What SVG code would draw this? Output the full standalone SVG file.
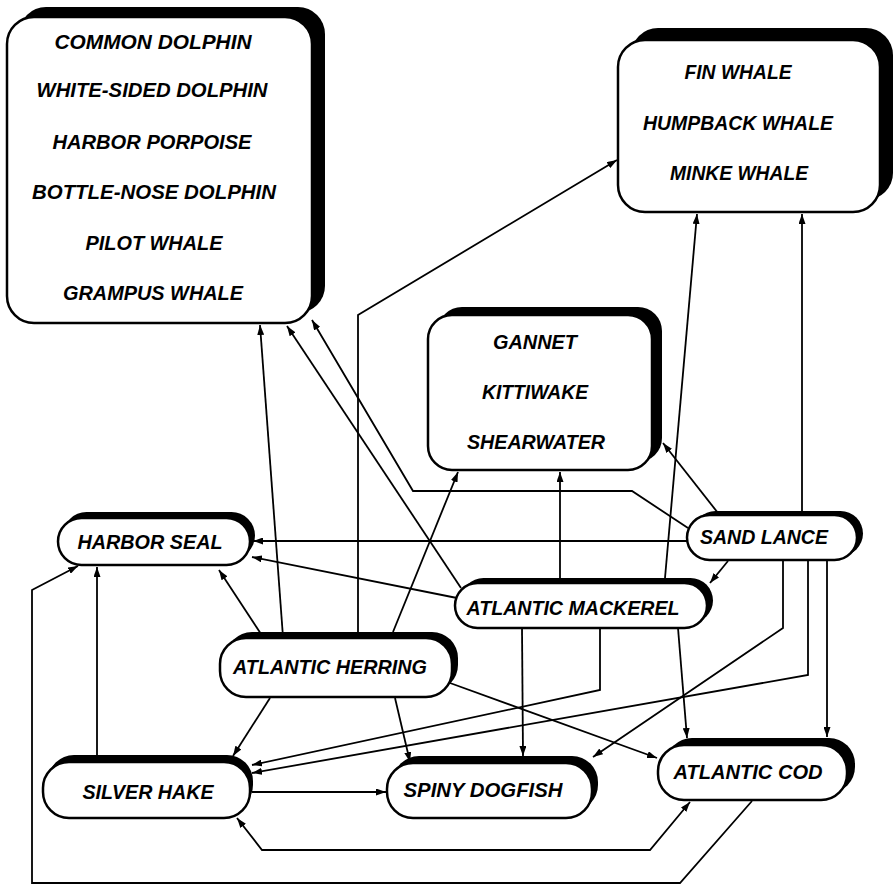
<svg xmlns="http://www.w3.org/2000/svg" width="896" height="886" viewBox="0 0 896 886">
<style>
.sh{fill:#000;stroke:none}
.bx{fill:#fff;stroke:#000;stroke-width:2.5}
.t{font-family:"Liberation Sans",Arial,sans-serif;font-weight:bold;font-style:italic;font-size:21px;fill:#000;text-anchor:middle}
.c{fill:none;stroke:#000;stroke-width:1.8;marker-end:url(#ah)}
</style>
<defs>
<marker id="ah" viewBox="0 0 10 7" refX="10" refY="3.5" markerWidth="10" markerHeight="7" markerUnits="userSpaceOnUse" orient="auto-start-reverse">
<path d="M0,0 L10,3.5 L0,7 z" fill="#000"/>
</marker>
</defs>
<rect width="896" height="886" fill="#fff"/>

<g id="connectors">
<path class="c" d="M687,541 L253,541"/>
<path class="c" d="M457,598 L252,557"/>
<path class="c" d="M263,637 L219,570"/>
<path class="c" d="M97,755 L97,567"/>
<path class="c" d="M752,801 L680,883 L32,883 L32,590 L78,566"/>
<path class="c" d="M283,637 L260,325"/>
<path class="c" d="M461,588 L287,326"/>
<path class="c" d="M688,528 L632,491 L413,491 L312,320"/>
<path class="c" d="M718,513 L663,443"/>
<path class="c" d="M560,578 L560,472"/>
<path class="c" d="M393,632 L458,472"/>
<path class="c" d="M665,578 L697,214"/>
<path class="c" d="M802,512 L802,214"/>
<path class="c" d="M358,632 L358,315 L617,160"/>
<path class="c" d="M728,561 L710,583"/>
<path class="c" d="M827,561 L827,737"/>
<path class="c" d="M678,628 L687,738"/>
<path class="c" d="M522,628 L523,756"/>
<path class="c" d="M783,561 L783,628 L593,757"/>
<path class="c" d="M808,561 L808,675 L252,773"/>
<path class="c" d="M600,628 L600,690 L252,765"/>
<path class="c" d="M270,698 L233,756"/>
<path class="c" d="M395,698 L410,762"/>
<path class="c" d="M450,683 L657,758"/>
<path class="c" d="M252,792 L386,792"/>
<path class="c" d="M237,818 L262,850 L650,850 L690,802" style="marker-start:url(#ah)"/>
</g>

<g id="toothed-whales">
<rect class="sh" x="19" y="7" width="306" height="306" rx="27"/>
<rect class="bx" x="7" y="17" width="305" height="306" rx="27"/>
<text class="t" x="153" y="49" textLength="197" lengthAdjust="spacingAndGlyphs">COMMON DOLPHIN</text>
<text class="t" x="152" y="97" textLength="231" lengthAdjust="spacingAndGlyphs">WHITE-SIDED DOLPHIN</text>
<text class="t" x="152" y="149" textLength="199" lengthAdjust="spacingAndGlyphs">HARBOR PORPOISE</text>
<text class="t" x="154" y="199" textLength="244" lengthAdjust="spacingAndGlyphs">BOTTLE-NOSE DOLPHIN</text>
<text class="t" x="154" y="250" textLength="137" lengthAdjust="spacingAndGlyphs">PILOT WHALE</text>
<text class="t" x="153" y="300" textLength="180" lengthAdjust="spacingAndGlyphs">GRAMPUS WHALE</text>
</g>

<g id="baleen-whales">
<rect class="sh" x="631" y="28" width="262" height="172" rx="27"/>
<rect class="bx" x="618" y="40" width="262" height="172" rx="27"/>
<text class="t" x="738" y="79" textLength="107" lengthAdjust="spacingAndGlyphs">FIN WHALE</text>
<text class="t" x="738" y="130" textLength="190" lengthAdjust="spacingAndGlyphs">HUMPBACK WHALE</text>
<text class="t" x="739" y="180" textLength="138" lengthAdjust="spacingAndGlyphs">MINKE WHALE</text>
</g>

<g id="seabirds">
<rect class="sh" x="438" y="307" width="224" height="155" rx="24"/>
<rect class="bx" x="428" y="315" width="224" height="155" rx="24"/>
<text class="t" x="535" y="349" textLength="84" lengthAdjust="spacingAndGlyphs">GANNET</text>
<text class="t" x="535" y="399" textLength="106" lengthAdjust="spacingAndGlyphs">KITTIWAKE</text>
<text class="t" x="536" y="449" textLength="138" lengthAdjust="spacingAndGlyphs">SHEARWATER</text>
</g>

<g id="harbor-seal">
<rect class="sh" x="63" y="512" width="192" height="47" rx="23.5"/>
<rect class="bx" x="58" y="518" width="192" height="47" rx="23.5"/>
<text class="t" x="150" y="549" textLength="145" lengthAdjust="spacingAndGlyphs">HARBOR SEAL</text>
</g>

<g id="sand-lance">
<rect class="sh" x="693" y="511" width="170" height="45" rx="22.5"/>
<rect class="bx" x="687" y="515" width="170" height="45" rx="22.5"/>
<text class="t" x="764" y="544" textLength="128" lengthAdjust="spacingAndGlyphs">SAND LANCE</text>
</g>

<g id="atlantic-mackerel">
<rect class="sh" x="461" y="578" width="252" height="45" rx="22.5"/>
<rect class="bx" x="455" y="583" width="252" height="45" rx="22.5"/>
<text class="t" x="573" y="615" textLength="213" lengthAdjust="spacingAndGlyphs">ATLANTIC MACKEREL</text>
</g>

<g id="atlantic-herring">
<rect class="sh" x="226" y="632" width="232" height="59" rx="26"/>
<rect class="bx" x="220" y="638" width="232" height="59" rx="26"/>
<text class="t" x="330" y="674" textLength="194" lengthAdjust="spacingAndGlyphs">ATLANTIC HERRING</text>
</g>

<g id="silver-hake">
<rect class="sh" x="48" y="755" width="205" height="56" rx="26"/>
<rect class="bx" x="43" y="762" width="207" height="56" rx="26"/>
<text class="t" x="148" y="799" textLength="131" lengthAdjust="spacingAndGlyphs">SILVER HAKE</text>
</g>

<g id="spiny-dogfish">
<rect class="sh" x="393" y="756" width="205" height="55" rx="26"/>
<rect class="bx" x="387" y="763" width="205" height="55" rx="26"/>
<text class="t" x="483" y="797" textLength="159" lengthAdjust="spacingAndGlyphs">SPINY DOGFISH</text>
</g>

<g id="atlantic-cod">
<rect class="sh" x="666" y="738" width="189" height="55" rx="26"/>
<rect class="bx" x="658" y="745" width="189" height="55" rx="26"/>
<text class="t" x="748" y="779" textLength="149" lengthAdjust="spacingAndGlyphs">ATLANTIC COD</text>
</g>
</svg>
